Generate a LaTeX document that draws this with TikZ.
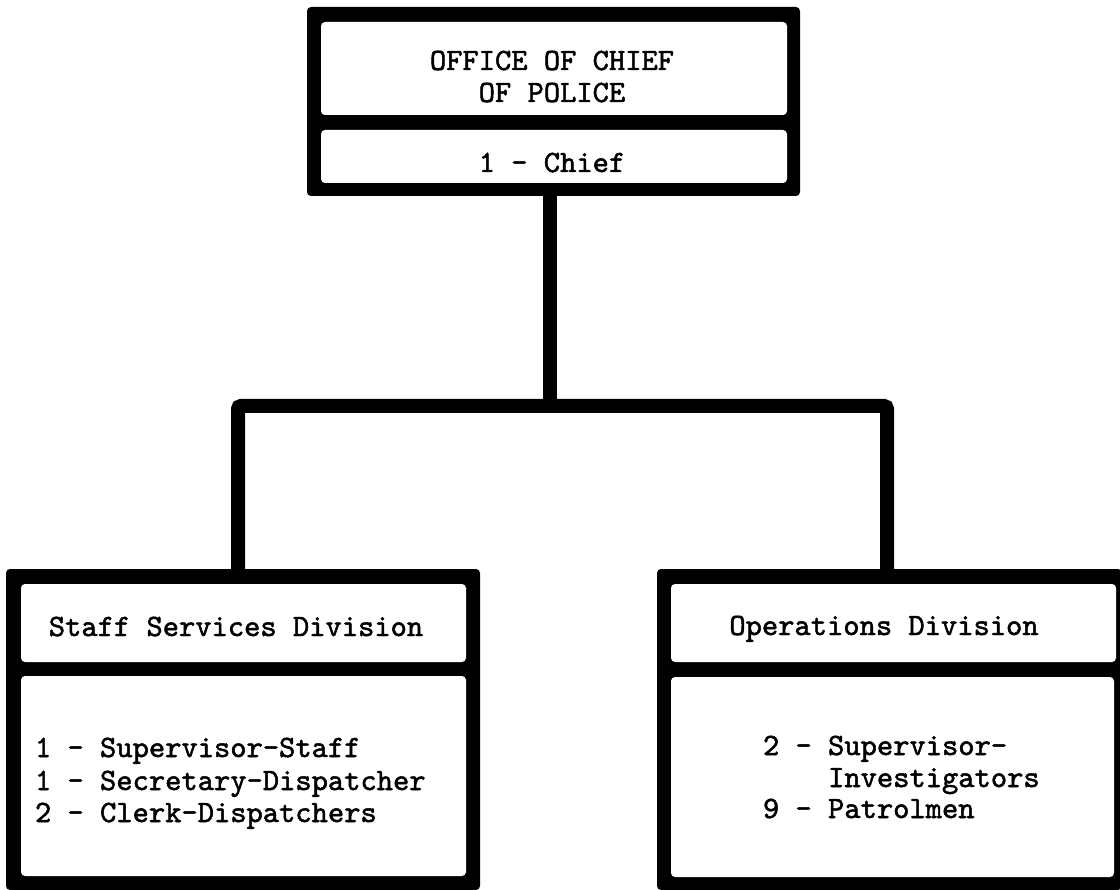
\documentclass[tikz,border=0pt]{standalone}
\usepackage{fontspec}
\newfontfamily\twfont{lmmono10-regular.otf}[AutoFakeBold=1.6]
\newcommand\tw{\twfont\bfseries\fontsize{31}{32}\selectfont}
\begin{document}
\begin{tikzpicture}[x=1pt,y=-1pt,
  frame/.style={fill=black, rounded corners=4pt, inner sep=0pt, outer sep=0pt, draw=none},
  panel/.style={fill=white, rounded corners=4pt, inner sep=0pt, outer sep=0pt, draw=none},
  txt/.style={font=\tw, inner sep=0pt, outer sep=0pt, text=black},
  wire/.style={line width=14pt, draw=black}]
\useasboundingbox (0,0) rectangle (1120,890);
\fill[white] (0,0) rectangle (1120,890);

% top box
\node[frame, minimum width=493pt, minimum height=189pt] (top) at (553.5,101.5) {};
\node[panel, minimum width=466pt, minimum height=93pt] (topA) at (554,68.5) {};
\node[panel, minimum width=466pt, minimum height=53pt] (topB) at (554,156.5) {};
\node[txt, anchor=base] (t1) at (552,70) {OFFICE OF CHIEF};
\node[txt, anchor=base] (t2) at (552,102) {OF POLICE};
\node[txt, anchor=base] (t3) at (552,172) {1 - Chief};

% left box
\node[frame, minimum width=474pt, minimum height=321pt] (lft) at (243,729.5) {};
\node[panel, minimum width=445pt, minimum height=78pt] (lftA) at (243.5,623) {};
\node[panel, minimum width=445pt, minimum height=200pt] (lftB) at (243.5,776) {};
\node[txt, anchor=base] (l0) at (236,636) {Staff Services Division};
\node[txt, anchor=base west] (l1) at (35,757) {1 - Supervisor-Staff};
\node[txt, anchor=base west] (l2) at (35,790) {1 - Secretary-Dispatcher};
\node[txt, anchor=base west] (l3) at (35,822) {2 - Clerk-Dispatchers};

% right box
\node[frame, minimum width=465pt, minimum height=321pt] (rgt) at (889.5,729.5) {};
\node[panel, minimum width=445pt, minimum height=78pt] (rgtA) at (893.5,623) {};
\node[panel, minimum width=443pt, minimum height=200pt] (rgtB) at (892.5,777) {};
\node[txt, anchor=base] (r0) at (884,635) {Operations Division};
\node[txt, anchor=base west] (r1) at (763,755) {2 - Supervisor-};
\node[txt, anchor=base west] (r2) at (763,787) {\phantom{2 - }Investigators};
\node[txt, anchor=base west] (r3) at (763,818) {9 - Patrolmen};

% connectors
\coordinate (j) at (550,406);
\coordinate (lj) at (238,406);
\coordinate (rj) at (887,406);
\draw[wire] (top.south -| j) -- (j);
\draw[wire, rounded corners=3pt] (lft.north -| lj) -- (lj) -- (rj) -- (rgt.north -| rj);
\end{tikzpicture}
\end{document}
